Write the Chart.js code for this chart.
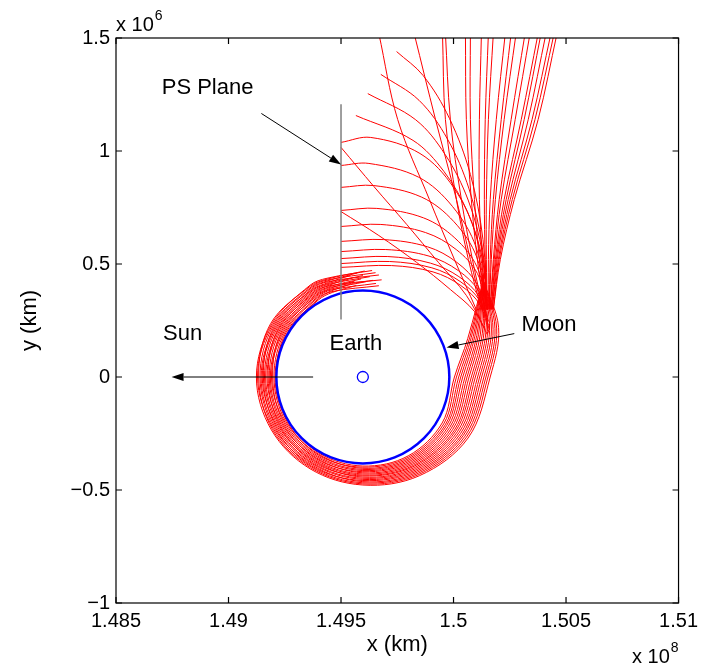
<!DOCTYPE html>
<html>
<head>
<meta charset="utf-8">
<script src="https://cdn.jsdelivr.net/npm/chart.js@4.4.1/dist/chart.umd.min.js"></script>
<style>
  html, body { margin: 0; padding: 0; background: #fff; }
</style>
</head>
<body>
<canvas id="myChart" width="704" height="671"></canvas>
<script>
const FONT = '"Liberation Sans", Arial, Helvetica, sans-serif';

const EARTH_X = 1.49597e8;  // km
const MOON_R = 384400;      // km, radius of the lunar orbit

const xTickVals = [1.485e8, 1.49e8, 1.495e8, 1.5e8, 1.505e8, 1.51e8];
const yTickVals = [-1e6, -0.5e6, 0, 0.5e6, 1e6, 1.5e6];

// legs coming in from the top edge, [dx, dy] in 1000 km from the Earth
const topLegs = [
  [[71,1520],[155,1139],[296,785],[407,520],[504,299]],
  [[228,1520],[323,1139],[416,785],[478,520],[531,299]],
  [[354,1520],[367,1139],[416,785],[469,520],[527,299]],
  [[367,1520],[389,1139],[438,785],[487,520],[535,299]],
  [[456,1520],[460,1139],[482,785],[509,520],[540,299]],
  [[478,1520],[478,1139],[496,785],[518,520],[544,299]],
  [[527,1520],[518,1139],[518,785],[531,520],[549,299]],
  [[558,1520],[544,1139],[540,785],[544,520],[553,299]],
  [[580,1520],[558,1139],[549,785],[549,520],[553,299]],
  [[633,1520],[593,1139],[566,785],[558,520],[558,299]],
  [[659,1520],[615,1139],[580,785],[566,520],[562,299]],
  [[681,1520],[628,1139],[589,785],[571,520],[562,299]],
  [[721,1520],[659,1139],[606,785],[580,520],[566,299]],
  [[743,1520],[677,1139],[615,785],[584,520],[566,299]],
  [[779,1520],[704,1139],[628,785],[589,520],[571,299]],
  [[792,1520],[717,1139],[637,785],[593,520],[571,299]],
  [[814,1520],[735,1139],[646,785],[597,520],[575,299]],
  [[836,1520],[752,1139],[655,785],[602,520],[575,299]],
  [[850,1520],[765,1139],[664,785],[606,520],[580,299]],
  [[863,1520],[779,1139],[673,785],[611,520],[580,299]]
];

// arcs between the PS plane and the swing-by, same units
const planeLegs = [
  [[150,1440],[268,1334],[385,1144],[478,896],[534,608],[553,299]],
  [[80,1339],[250,1224],[376,1053],[472,832],[531,575],[553,299]],
  [[22,1254],[235,1138],[366,984],[468,783],[531,550],[553,299]],
  [[-31,1157],[223,1047],[360,910],[465,731],[531,523],[553,299]],
  [[-97,1038],[35,1060],[254,989],[403,839],[504,622],[553,299]],
  [[-97,936],[27,945],[248,884],[398,755],[504,572],[553,299]],
  [[-97,839],[49,847],[261,796],[405,687],[506,531],[553,299]],
  [[-97,737],[62,746],[270,704],[409,615],[507,488],[553,299]],
  [[-97,666],[80,675],[279,639],[415,564],[509,458],[553,299]],
  [[-97,600],[93,608],[288,576],[418,507],[509,409],[553,263]],
  [[-97,555],[102,564],[294,535],[424,471],[515,380],[558,246]],
  [[-97,524],[111,533],[300,504],[427,444],[516,357],[558,228]],
  [[-97,502],[119,511],[307,483],[432,423],[520,337],[562,210]],
  [[-97,485],[128,493],[312,465],[435,405],[521,319],[562,192]],
  [[-97,1016],[49,843],[195,675],[336,507],[460,361],[544,210]],
  [[-97,732],[71,626],[239,507],[389,387],[496,290],[553,188]]
];

// loops around the Earth (clockwise): radius in 1000 km at each angle (deg)
const loopAngles = [40, 20, 0, -30, -60, -90, -120, -150, -180, -210, -240, -250];
const loopRadii = [
  [708,496,407,407,403,394,389,385,385,394,394,398],
  [707,505,416,415,409,399,398,390,390,389,398,402],
  [706,513,426,423,415,404,394,395,395,399,403,406],
  [705,522,435,430,421,409,403,400,406,404,407,410],
  [704,530,444,438,427,414,408,405,401,414,412,414],
  [703,539,454,446,433,419,417,410,411,409,416,418],
  [702,547,463,454,439,424,413,415,416,419,420,422],
  [701,556,472,462,445,429,422,420,426,424,425,426],
  [700,565,482,470,451,434,427,425,421,433,429,430],
  [698,573,491,477,456,438,436,429,432,429,434,433],
  [697,582,500,485,462,443,431,434,437,438,438,437],
  [696,590,510,493,468,448,441,439,447,443,443,441],
  [695,599,519,501,474,453,445,444,442,453,447,445],
  [694,608,528,509,480,458,455,449,452,448,451,449],
  [693,616,538,516,486,463,450,454,457,458,456,453],
  [692,625,547,524,492,468,459,459,468,463,460,457],
  [691,633,556,532,498,473,464,464,463,473,465,461],
  [690,642,566,540,504,478,469,469,473,468,469,465]
];
// where each loop stops: [angle deg, radius 1000 km]
const loopEnds = [
  [-266,406],[-280,410],[-262,414],[-278,418],[-272,422],[-265,426],
  [-276,430],[-269,434],[-281,438],[-264,441],[-274,445],[-270,449],
  [-263,453],[-279,457],[-267,461],[-277,465],[-271,469],[-275,473]
];

// PS plane segment and annotations (km)
const psPlaneX = 1.495e8;
const psPlaneY = [0.254e6, 1.207e6];
const arrows = [
  { from: [1.49376e8, 0], to: [1.48747e8, 0] },
  { from: [1.50270e8, 0.192e6], to: [1.49969e8, 0.131e6] },
  { from: [1.49146e8, 1.166e6], to: [1.495e8, 0.940e6] }
];
const notes = [
  { text: 'PS Plane', x: 1.48907e8, y: 1.277e6 },
  { text: 'Sun', x: 1.48796e8, y: 0.192e6 },
  { text: 'Earth', x: 1.49566e8, y: 0.148e6 },
  { text: 'Moon', x: 1.50424e8, y: 0.232e6 }
];

function offsetPts(list) {
  return list.map(p => ({ x: EARTH_X + p[0] * 1000, y: p[1] * 1000 }));
}
function polarPts(radii, end) {
  var pts = loopAngles.map((a, i) => [a, radii[i]]);
  pts.push(end);
  return pts.map(p => {
    var t = p[0] * Math.PI / 180;
    return { x: EARTH_X + p[1] * 1000 * Math.cos(t), y: p[1] * 1000 * Math.sin(t) };
  });
}
function track(pts) {
  return { data: pts, showLine: true, borderColor: '#ff0000', borderWidth: 1,
           pointRadius: 0, tension: 0.35, fill: false };
}

var datasets = [];
// moon orbit and Earth first so they sit on top
datasets.push({
  data: [{ x: EARTH_X, y: 0 }], showLine: false, pointStyle: 'circle',
  pointRadius: c => {
    var s = c.chart.scales.x;
    return s.getPixelForValue(EARTH_X + MOON_R) - s.getPixelForValue(EARTH_X);
  },
  borderColor: '#0000ff', borderWidth: 2.5, backgroundColor: 'rgba(0,0,0,0)'
});
datasets.push({
  data: [{ x: EARTH_X, y: 0 }], showLine: false, pointStyle: 'circle',
  pointRadius: 5.5, borderColor: '#0000ff', borderWidth: 1.3, backgroundColor: 'rgba(0,0,0,0)'
});
topLegs.forEach(l => datasets.push(track(offsetPts(l))));
planeLegs.forEach(l => datasets.push(track(offsetPts(l))));
loopRadii.forEach((r, i) => datasets.push(track(polarPts(r, loopEnds[i]))));

function arrow(ctx, x0, y0, x1, y1) {
  var ang = Math.atan2(y1 - y0, x1 - x0), len = 12, hw = 4;
  var bx = x1 - len * Math.cos(ang), by = y1 - len * Math.sin(ang);
  ctx.beginPath();
  ctx.moveTo(x0, y0);
  ctx.lineTo(bx, by);
  ctx.stroke();
  ctx.beginPath();
  ctx.moveTo(x1, y1);
  ctx.lineTo(bx + hw * Math.sin(ang), by - hw * Math.cos(ang));
  ctx.lineTo(bx - hw * Math.sin(ang), by + hw * Math.cos(ang));
  ctx.closePath();
  ctx.fill();
}

// "x 10^n" multiplier, left edge at x0 or right edge at x0 when alignRight
function powerLabel(ctx, x0, yb, exp, alignRight) {
  ctx.textAlign = 'left';
  ctx.textBaseline = 'alphabetic';
  ctx.font = '20px ' + FONT;
  var w = ctx.measureText('x 10').width;
  ctx.font = '14px ' + FONT;
  var we = ctx.measureText(exp).width;
  if (alignRight) x0 -= w + 1 + we;
  ctx.font = '20px ' + FONT;
  ctx.fillText('x 10', x0, yb);
  ctx.font = '14px ' + FONT;
  ctx.fillText(exp, x0 + w + 1, yb - 11);
}

const decor = {
  id: 'decor',
  afterDatasetsDraw(chart) {
    const { ctx, chartArea: a, scales: { x, y } } = chart;
    ctx.save();
    // PS plane
    ctx.strokeStyle = '#7f7f7f';
    ctx.lineWidth = 1.5;
    ctx.beginPath();
    ctx.moveTo(x.getPixelForValue(psPlaneX), y.getPixelForValue(psPlaneY[0]));
    ctx.lineTo(x.getPixelForValue(psPlaneX), y.getPixelForValue(psPlaneY[1]));
    ctx.stroke();

    ctx.strokeStyle = '#000';
    ctx.fillStyle = '#000';
    ctx.lineWidth = 1;
    arrows.forEach(r => arrow(ctx,
      x.getPixelForValue(r.from[0]), y.getPixelForValue(r.from[1]),
      x.getPixelForValue(r.to[0]), y.getPixelForValue(r.to[1])));

    ctx.font = '22px ' + FONT;
    ctx.textAlign = 'center';
    ctx.textBaseline = 'middle';
    notes.forEach(n => ctx.fillText(n.text, x.getPixelForValue(n.x), y.getPixelForValue(n.y)));

    // axes box with inward ticks
    ctx.lineWidth = 1.2;
    ctx.strokeRect(a.left, a.top, a.right - a.left, a.bottom - a.top);
    var tl = 6;
    ctx.beginPath();
    xTickVals.forEach(v => {
      var px = x.getPixelForValue(v);
      ctx.moveTo(px, a.bottom); ctx.lineTo(px, a.bottom - tl);
      ctx.moveTo(px, a.top); ctx.lineTo(px, a.top + tl);
    });
    yTickVals.forEach(v => {
      var py = y.getPixelForValue(v);
      ctx.moveTo(a.left, py); ctx.lineTo(a.left + tl, py);
      ctx.moveTo(a.right, py); ctx.lineTo(a.right - tl, py);
    });
    ctx.stroke();

    powerLabel(ctx, a.left, 31, '6', false);
    powerLabel(ctx, a.right, 663, '8', true);
    ctx.restore();
  }
};

var ctx = document.getElementById('myChart');
var chart = new Chart(ctx, {
  type: 'scatter',
  data: { datasets: datasets },
  options: {
    responsive: false,
    animation: false,
    events: [],
    layout: { padding: { top: 38, right: 23, left: 0, bottom: 0 } },
    elements: { line: { capBezierPoints: false } },
    plugins: { legend: { display: false }, tooltip: { enabled: false } },
    scales: {
      x: {
        type: 'linear', min: 1.485e8, max: 1.51e8,
        afterBuildTicks: s => { s.ticks = xTickVals.map(v => ({ value: v })); },
        afterFit: s => { s.height = 68; },
        grid: { display: false, drawTicks: false },
        border: { display: false },
        ticks: {
          font: { family: FONT, size: 20 }, color: '#000', padding: 6,
          maxRotation: 0, autoSkip: false,
          callback: v => Number((v / 1e8).toFixed(4)).toString()
        },
        title: { display: true, text: 'x (km)', color: '#000',
                 font: { family: FONT, size: 22 }, padding: { top: 0, bottom: 13 } }
      },
      y: {
        type: 'linear', min: -1e6, max: 1.5e6,
        afterBuildTicks: s => { s.ticks = yTickVals.map(v => ({ value: v })); },
        afterFit: s => { s.width = 116; },
        grid: { display: false, drawTicks: false },
        border: { display: false },
        ticks: {
          font: { family: FONT, size: 20 }, color: '#000', padding: 6,
          autoSkip: false,
          callback: v => Number((v / 1e6).toFixed(2)).toString().replace('-', '\u2212')
        },
        title: { display: true, text: 'y (km)', color: '#000',
                 font: { family: FONT, size: 22 }, padding: { top: 17, bottom: 0 } }
      }
    }
  },
  plugins: [decor]
});
</script>
</body>
</html>
